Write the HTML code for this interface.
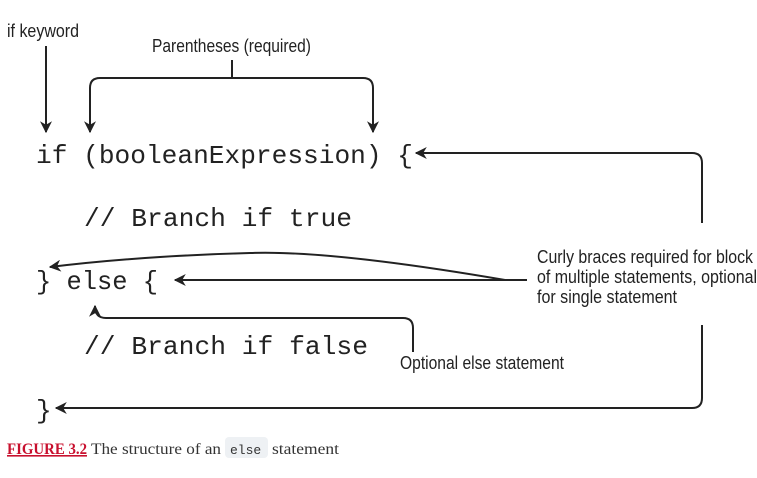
<!DOCTYPE html>
<html><head><meta charset="utf-8"><style>
html,body{margin:0;padding:0;background:#fff;}
svg{display:block;}
.c{font-family:"Liberation Mono","DejaVu Sans Mono",monospace;font-size:26px;fill:#222;}
.l{font-family:"Liberation Sans Narrow","Liberation Sans",sans-serif;font-size:18px;fill:#222;}
.ln{stroke:#222;stroke-width:2;fill:none;}
</style></head><body>
<svg width="757" height="478" viewBox="0 0 757 478" xmlns="http://www.w3.org/2000/svg">
<defs><marker id="a" viewBox="0 0 10 10" refX="9" refY="5" markerWidth="7" markerHeight="7" markerUnits="userSpaceOnUse" orient="auto"><path d="M0,0 L10,5 L0,10 L3,5 z" fill="#222"/></marker>
<marker id="b" viewBox="0 0 10 10" refX="9" refY="5" markerWidth="12" markerHeight="12" markerUnits="userSpaceOnUse" orient="auto"><path d="M0,0 L10,5 L0,10 L3,5 z" fill="#222"/></marker></defs>
<text class="c" x="36" y="163" textLength="377" lengthAdjust="spacingAndGlyphs">if (booleanExpression) {</text>
<text class="c" x="84" y="226" textLength="268" lengthAdjust="spacingAndGlyphs">// Branch if true</text>
<text class="c" x="36" y="289" textLength="122" lengthAdjust="spacingAndGlyphs">} else {</text>
<text class="c" x="84" y="354" textLength="284" lengthAdjust="spacingAndGlyphs">// Branch if false</text>
<text class="c" x="36" y="418">}</text>
<text class="l" x="7" y="37" textLength="72" lengthAdjust="spacingAndGlyphs">if keyword</text>
<text class="l" x="152" y="52" textLength="159" lengthAdjust="spacingAndGlyphs">Parentheses (required)</text>
<text class="l" x="537" y="263" textLength="216" lengthAdjust="spacingAndGlyphs">Curly braces required for block</text>
<text class="l" x="537" y="283" textLength="220" lengthAdjust="spacingAndGlyphs">of multiple statements, optional</text>
<text class="l" x="537" y="303" textLength="140" lengthAdjust="spacingAndGlyphs">for single statement</text>
<text class="l" x="400" y="369" textLength="164" lengthAdjust="spacingAndGlyphs">Optional else statement</text>
<path class="ln" d="M46,46 V132" marker-end="url(#b)"/>
<path class="ln" d="M232,60 V78"/>
<path class="ln" d="M90,132 V88 Q90,78 100,78 H363 Q373,78 373,88 V132" marker-end="url(#b)"/>
<path class="ln" d="M90,120 V132" marker-end="url(#b)"/>
<path class="ln" d="M702,223 V163 Q702,153 692,153 H416" marker-end="url(#b)"/>
<path class="ln" d="M527,280 H175" marker-end="url(#b)"/>
<path class="ln" d="M505,280 Q330,250 250,253 Q140,256 50,267" marker-end="url(#b)"/>
<path class="ln" d="M413,352 V328 Q413,318 403,318 H106 Q95,318 95,306" marker-end="url(#b)"/>
<path class="ln" d="M702,325 V398 Q702,408 692,408 H56" marker-end="url(#b)"/>
<rect x="225" y="437" width="43" height="21" rx="4" fill="#eef1f4"/>
<text x="7" y="454" font-family="Liberation Serif,serif" font-size="16" font-weight="bold" fill="#c8102e" text-decoration="underline" textLength="80" lengthAdjust="spacingAndGlyphs">FIGURE 3.2</text>
<text x="91" y="454" font-family="Liberation Serif,serif" font-size="16" fill="#333" textLength="130" lengthAdjust="spacingAndGlyphs">The structure of an</text>
<text x="230" y="454" font-family="Liberation Mono,monospace" font-size="13" fill="#333">else</text>
<text x="272" y="454" font-family="Liberation Serif,serif" font-size="16" fill="#333" textLength="67" lengthAdjust="spacingAndGlyphs">statement</text>
</svg>
</body></html>
